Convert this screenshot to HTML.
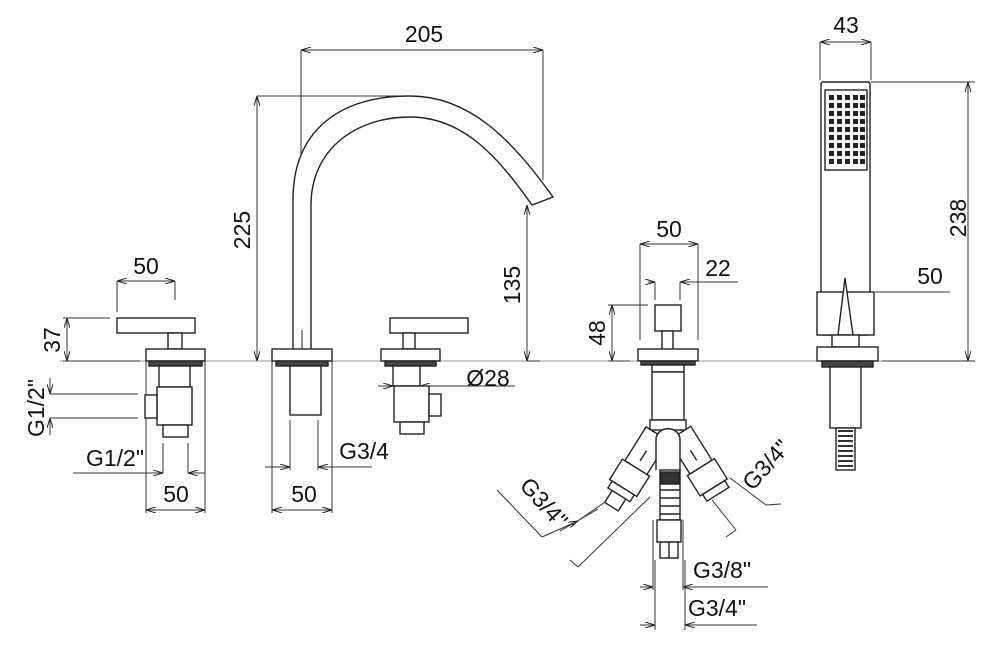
<!DOCTYPE html>
<html><head><meta charset="utf-8"><style>
html,body{margin:0;padding:0;background:#fff;}
svg{display:block;}
text{font-family:"Liberation Sans",Arial,sans-serif;font-size:23px;fill:#111;}
</style></head><body>
<svg width="1000" height="663" viewBox="0 0 1000 663" xmlns="http://www.w3.org/2000/svg">
<defs>
<marker id="a" viewBox="0 0 10 6" refX="10" refY="3" markerWidth="10" markerHeight="6" orient="auto-start-reverse" markerUnits="userSpaceOnUse"><path d="M0,0 L10,3 L0,6" fill="none" stroke="#222" stroke-width="1"/></marker>
</defs>
<g fill="none" stroke="#999" stroke-width="1">
<line x1="60" y1="361" x2="975" y2="361"/>
</g>
<!-- dimension lines -->
<g fill="none" stroke="#333" stroke-width="1">
<!-- left valve -->
<line x1="117" y1="281" x2="175" y2="281" marker-start="url(#a)" marker-end="url(#a)"/>
<line x1="117" y1="281" x2="117" y2="312"/><line x1="175" y1="281" x2="175" y2="300"/>
<line x1="67" y1="318" x2="67" y2="361" marker-start="url(#a)" marker-end="url(#a)"/>
<line x1="63" y1="318" x2="110" y2="318"/><line x1="63" y1="361" x2="140" y2="361"/>
<line x1="50" y1="378" x2="50" y2="394" marker-end="url(#a)"/>
<line x1="50" y1="435" x2="50" y2="418" marker-end="url(#a)"/>
<line x1="50" y1="394" x2="138" y2="394"/><line x1="50" y1="418" x2="138" y2="418"/>
<line x1="73" y1="473" x2="163" y2="473" marker-end="url(#a)"/>
<line x1="205" y1="473" x2="188" y2="473" marker-end="url(#a)"/>
<line x1="163" y1="443" x2="163" y2="473"/><line x1="188" y1="443" x2="188" y2="473"/>
<line x1="146" y1="510" x2="205" y2="510" marker-start="url(#a)" marker-end="url(#a)"/>
<line x1="146" y1="361" x2="146" y2="513"/><line x1="205" y1="361" x2="205" y2="513"/>
<!-- spout -->
<line x1="301" y1="50" x2="543" y2="50" marker-start="url(#a)" marker-end="url(#a)"/>
<line x1="301" y1="50" x2="301" y2="230"/><line x1="543" y1="50" x2="543" y2="180"/>
<line x1="257" y1="96" x2="257" y2="361" marker-start="url(#a)" marker-end="url(#a)"/>
<line x1="257" y1="96" x2="405" y2="96"/>
<line x1="527" y1="205" x2="527" y2="361" marker-start="url(#a)" marker-end="url(#a)"/>
<line x1="527" y1="361" x2="540" y2="361"/>
<line x1="272" y1="510" x2="332" y2="510" marker-start="url(#a)" marker-end="url(#a)"/>
<line x1="272" y1="361" x2="272" y2="513"/><line x1="332" y1="361" x2="332" y2="513"/>
<line x1="265" y1="467" x2="290" y2="467" marker-end="url(#a)"/>
<line x1="372" y1="467" x2="318" y2="467" marker-end="url(#a)"/>
<line x1="290" y1="420" x2="290" y2="470"/><line x1="318" y1="420" x2="318" y2="470"/>
<line x1="378" y1="386" x2="393" y2="386" marker-end="url(#a)"/>
<line x1="515" y1="386" x2="420" y2="386" marker-end="url(#a)"/>
<!-- mixer -->
<line x1="640" y1="244" x2="698" y2="244" marker-start="url(#a)" marker-end="url(#a)"/>
<line x1="640" y1="244" x2="640" y2="340"/><line x1="698" y1="244" x2="698" y2="340"/>
<line x1="648" y1="282" x2="655" y2="282" marker-end="url(#a)"/>
<line x1="738" y1="282" x2="680" y2="282" marker-end="url(#a)"/>
<line x1="655" y1="282" x2="655" y2="300"/><line x1="680" y1="282" x2="680" y2="300"/>
<line x1="612" y1="305" x2="612" y2="361" marker-start="url(#a)" marker-end="url(#a)"/>
<line x1="608" y1="305" x2="648" y2="305"/><line x1="608" y1="361" x2="630" y2="361"/>
<line x1="640" y1="587" x2="653" y2="587" marker-end="url(#a)"/>
<line x1="768" y1="587" x2="683" y2="587" marker-end="url(#a)"/>
<line x1="653" y1="520" x2="653" y2="590"/><line x1="683" y1="520" x2="683" y2="590"/>
<line x1="640" y1="625" x2="655" y2="625" marker-end="url(#a)"/>
<line x1="757" y1="625" x2="685" y2="625" marker-end="url(#a)"/>
<line x1="655" y1="560" x2="655" y2="630"/><line x1="685" y1="560" x2="685" y2="630"/>
<!-- left diagonal dims -->
<line x1="497" y1="490" x2="542" y2="537"/>
<line x1="542" y1="537" x2="578" y2="521" marker-end="url(#a)"/>
<line x1="570" y1="560" x2="578" y2="567"/>
<line x1="578" y1="567" x2="650" y2="497"/>
<line x1="572" y1="525" x2="608" y2="500"/>
<line x1="560" y1="531" x2="598" y2="509"/>
<!-- right diagonal -->
<line x1="730" y1="478" x2="766" y2="505"/>
<line x1="766" y1="505" x2="781" y2="504"/>
<line x1="712" y1="500" x2="736" y2="530"/>
<line x1="736" y1="530" x2="726" y2="537"/>
<!-- hand shower -->
<line x1="820" y1="42" x2="871" y2="42" marker-start="url(#a)" marker-end="url(#a)"/>
<line x1="820" y1="42" x2="820" y2="80"/><line x1="871" y1="42" x2="871" y2="80"/>
<line x1="968" y1="82" x2="968" y2="361" marker-start="url(#a)" marker-end="url(#a)"/>
<line x1="871" y1="82" x2="975" y2="82"/><line x1="882" y1="361" x2="975" y2="361"/>
<line x1="875" y1="292" x2="950" y2="292"/>
<line x1="817" y1="292" x2="817" y2="330"/><line x1="874" y1="292" x2="874" y2="330"/>
</g>
<!-- objects -->
<g fill="#fff" stroke="#222" stroke-width="1.4">
<!-- left valve -->
<rect x="117" y="318" width="78" height="15"/>
<rect x="168" y="333" width="14" height="16"/>
<rect x="146" y="349" width="59" height="12"/>
<rect x="149" y="361" width="53" height="5" fill="#444"/>
<rect x="159" y="366" width="31" height="21"/>
<rect x="157" y="387" width="35" height="38"/>
<rect x="145" y="395" width="12" height="23"/>
<rect x="163" y="425" width="25" height="12"/>
<!-- spout -->
<path d="M293 349 L293 200 C293 130 340 96 410 96 C470 96 512 140 553 197 L532 205 C500 160 465 117 410 117 C355 117 311 150 311 205 L311 349"/>
<line x1="302" y1="330" x2="302" y2="349" stroke-width="1"/>
<rect x="272" y="349" width="60" height="12"/>
<rect x="276" y="361" width="52" height="5" fill="#444"/>
<rect x="290" y="366" width="31" height="49"/>
<!-- right valve -->
<rect x="390" y="318" width="78" height="15"/>
<rect x="403" y="333" width="12" height="16"/>
<rect x="381" y="349" width="59" height="12"/>
<rect x="385" y="361" width="51" height="5" fill="#444"/>
<rect x="393" y="366" width="27" height="20"/>
<rect x="394" y="386" width="35" height="36"/>
<rect x="429" y="394" width="12" height="22"/>
<rect x="400" y="422" width="24" height="12"/>
<!-- mixer -->
<rect x="655" y="305" width="26" height="26"/>
<rect x="662" y="331" width="11" height="20"/>
<rect x="638" y="349" width="60" height="12"/>
<rect x="641" y="361" width="54" height="4" fill="#444"/>
<rect x="652" y="365" width="32" height="7"/>
<rect x="652" y="372" width="32" height="48"/>
<rect x="650" y="420" width="36" height="10"/>
<g transform="rotate(32 652 440)">
<rect x="640" y="432" width="26" height="40"/>
<rect x="637" y="472" width="32" height="24"/>
<rect x="640" y="496" width="26" height="8"/>
<rect x="645" y="504" width="16" height="14"/>
<line x1="653" y1="452" x2="653" y2="464"/>
</g>
<g transform="rotate(-32 684 440)">
<rect x="671" y="432" width="26" height="40"/>
<rect x="668" y="472" width="32" height="24"/>
<rect x="671" y="496" width="26" height="8"/>
<line x1="684" y1="452" x2="684" y2="464"/>
</g>
<path d="M656 470 L656 440 C656 425 680 425 680 440 L680 470"/>
<rect x="660" y="470" width="20" height="50"/>
<rect x="661" y="472" width="18" height="12" fill="#333"/>
<line x1="660" y1="490" x2="680" y2="490"/><line x1="660" y1="498" x2="680" y2="498"/><line x1="660" y1="506" x2="680" y2="506"/><line x1="660" y1="514" x2="680" y2="514"/>
<rect x="657" y="520" width="24" height="22"/>
<rect x="660" y="542" width="18" height="16"/>
<line x1="669" y1="542" x2="669" y2="558"/>
<!-- hand shower -->
<rect x="821" y="82" width="49" height="253" rx="2"/>
<rect x="825" y="90" width="42" height="80"/>
<rect x="817" y="292" width="57" height="43"/>
<path d="M838 335 L845 278 L853 335 Z"/>
<rect x="832" y="335" width="27" height="12"/>
<rect x="817" y="347" width="61" height="14"/>
<rect x="822" y="361" width="51" height="6" fill="#444"/>
<rect x="830" y="367" width="31" height="61"/>
<rect x="836" y="428" width="19" height="42"/>
</g>
<g fill="#333">
<path d="M838 430 h15 v2 h-15z M838 435 h15 v2 h-15z M838 440 h15 v2 h-15z M838 445 h15 v2 h-15z M838 450 h15 v2 h-15z M838 455 h15 v2 h-15z M838 460 h15 v2 h-15z M838 465 h15 v2 h-15z"/>
</g>
<g fill="#222" id="dots">
<g id="row"><rect x="829" y="95" width="5" height="5"/><rect x="837" y="95" width="5" height="5"/><rect x="845" y="95" width="5" height="5"/><rect x="853" y="95" width="5" height="5"/><rect x="860" y="95" width="5" height="5"/></g>
<use href="#row" y="8"/><use href="#row" y="16"/><use href="#row" y="24"/><use href="#row" y="32"/><use href="#row" y="40"/><use href="#row" y="48"/><use href="#row" y="56"/><use href="#row" y="64"/>
</g>
<!-- texts -->
<text x="146" y="274" text-anchor="middle">50</text>
<text transform="translate(60,340) rotate(-90)" text-anchor="middle">37</text>
<text transform="translate(44,408) rotate(-90)" text-anchor="middle">G1/2"</text>
<text x="115" y="466" text-anchor="middle">G1/2"</text>
<text x="176" y="502" text-anchor="middle">50</text>
<text x="424" y="42" text-anchor="middle">205</text>
<text transform="translate(250,230) rotate(-90)" text-anchor="middle">225</text>
<text transform="translate(520,285) rotate(-90)" text-anchor="middle">135</text>
<text x="304" y="502" text-anchor="middle">50</text>
<text x="364" y="459" text-anchor="middle">G3/4</text>
<text x="488" y="386" text-anchor="middle">Ø28</text>
<text x="669" y="237" text-anchor="middle">50</text>
<text x="718" y="276" text-anchor="middle">22</text>
<text transform="translate(605,333) rotate(-90)" text-anchor="middle">48</text>
<text x="722" y="578" text-anchor="middle">G3/8"</text>
<text x="717" y="616" text-anchor="middle">G3/4"</text>
<text transform="translate(538,508) rotate(48)" text-anchor="middle">G3/4"</text>
<text transform="translate(772,470) rotate(-48)" text-anchor="middle">G3/4"</text>
<text x="846" y="33" text-anchor="middle">43</text>
<text transform="translate(966,218) rotate(-90)" text-anchor="middle">238</text>
<text x="930" y="284" text-anchor="middle">50</text>
</svg>
</body></html>
